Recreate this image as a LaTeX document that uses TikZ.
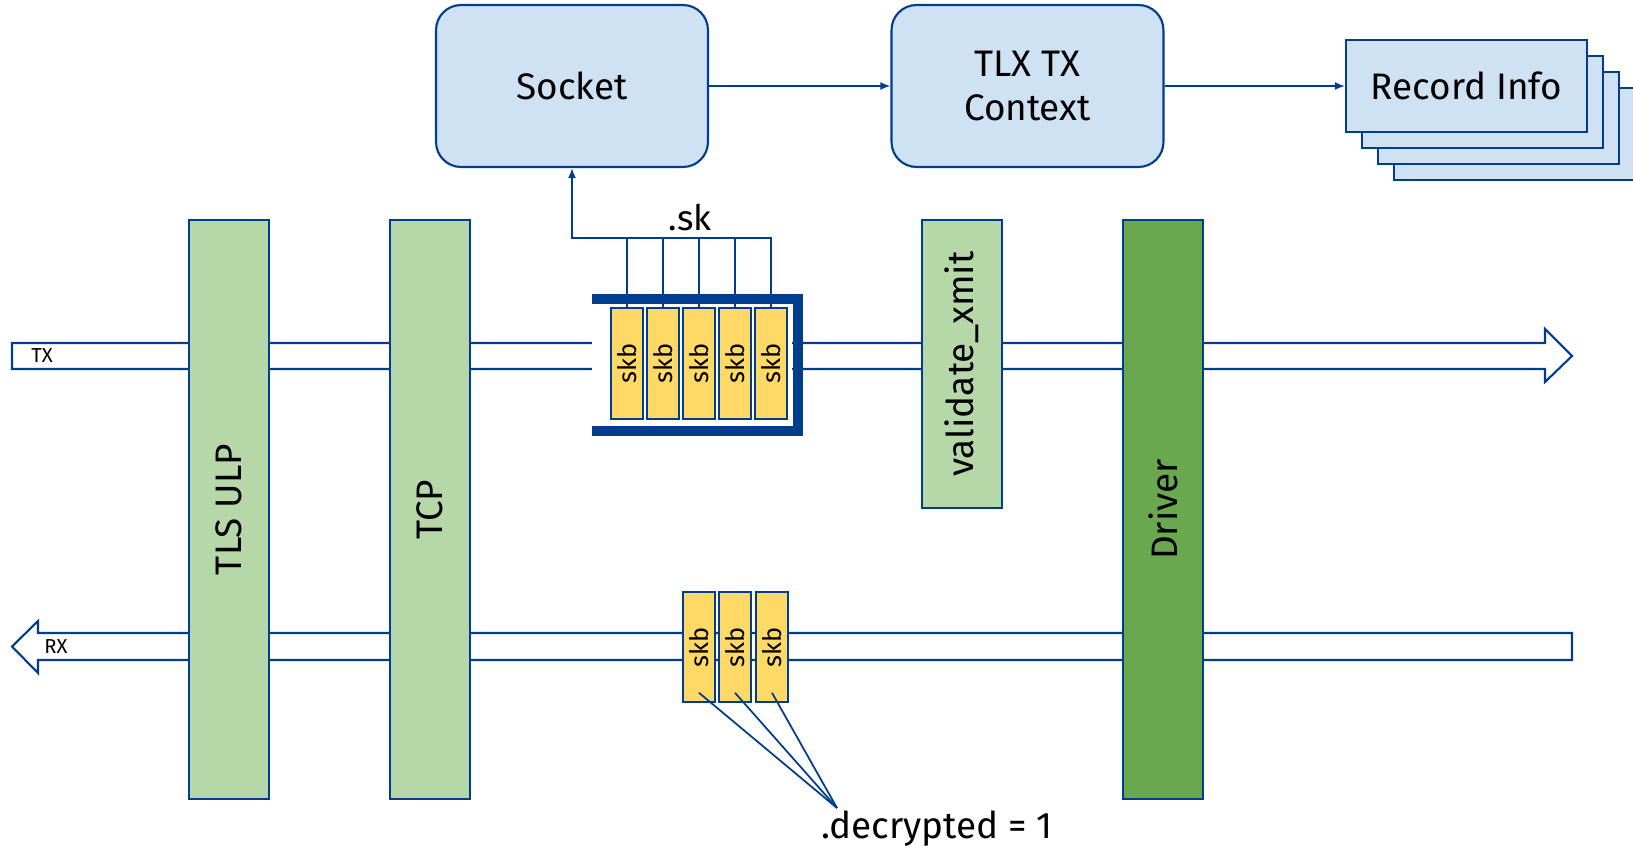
\documentclass[tikz,border=0pt]{standalone}
\usepackage{graphicx}
\usepackage{fontspec}
\setmainfont{Fira Sans}
\usetikzlibrary{arrows.meta}

\definecolor{lineblue}{RGB}{0,61,140}
\definecolor{boxblue}{RGB}{207,226,243}
\definecolor{lightgreen}{RGB}{182,215,168}
\definecolor{darkgreen}{RGB}{106,168,79}
\definecolor{skbyellow}{RGB}{255,217,102}

\tikzset{
  bigtext/.style={font=\fontsize{21}{25}\selectfont},
  ctxbox/.style={draw=lineblue, fill=boxblue, line width=1.2pt, rounded corners=0.5cm,
    minimum width=5.44cm, minimum height=3.24cm, align=center, bigtext},
  recbox/.style={draw=lineblue, fill=boxblue, line width=1.2pt,
    minimum width=4.82cm, minimum height=1.84cm, bigtext},
  layer/.style={draw=lineblue, line width=1.2pt, minimum width=1.6cm,
    minimum height=11.58cm, bigtext},
  skbbox/.style={draw=lineblue, fill=skbyellow, line width=0.9pt, inner sep=0pt,
    minimum width=0.64cm, minimum height=2.22cm, font=\fontsize{14.5}{17}\selectfont},
  pipe/.style={draw=lineblue, fill=white, line width=1.2pt},
  link/.style={draw=lineblue, line width=1pt},
  tip/.style={-{Latex[length=2mm,width=1.6mm]}}
}

\begin{document}
\begin{tikzpicture}[x=0.02cm, y=-0.02cm]
\useasboundingbox (0,0) rectangle (1633,848);

% top row
\node[ctxbox] (sock) at (572,86) {Socket};
\node[ctxbox] (tlx) at (1027.5,86) {TLX TX\\Context};
\foreach \k in {3,2,1}
    \node[recbox] at ({1466.5+16*\k},{86+16*\k}) {};
\node[recbox] (rec) at (1466.5,86) {Record Info};
\draw[link, tip] (sock) -- (tlx);
\draw[link, tip] (tlx) -- (rec);

% TX and RX paths
\draw[pipe] (12,343) -- (1545,343) -- (1545,329) -- (1572,356) -- (1545,382)
    -- (1545,369) -- (12,369) -- cycle;
\node[font=\fontsize{11.5}{13}\selectfont] (txl) at (42,356) {TX};
\draw[pipe] (12,646.5) -- (38,621) -- (38,633) -- (1572,633) -- (1572,660)
    -- (38,660) -- (38,673) -- cycle;
\node[font=\fontsize{11.5}{13}\selectfont] (rxl) at (56,646.5) {RX};

% layers
\node[layer, fill=lightgreen] (tls) at (229,509.5) {\rotatebox{90}{TLS ULP}};
\node[layer, fill=lightgreen] (tcp) at (430,509.5) {\rotatebox{90}{TCP}};
\node[layer, fill=lightgreen, minimum height=5.76cm] (vx) at (962,364) {\rotatebox{90}{validate\_xmit}};
\node[layer, fill=darkgreen] (drv) at (1163,509.5) {\rotatebox{90}{Driver}};

% socket write queue
\fill[white] (592,303) rectangle (792,425);
\draw[lineblue, line width=5.7pt] (592,299) -- (797.5,299) -- (797.5,431) -- (592,431);
\foreach \i/\x in {1/627,2/663,3/699,4/735,5/771}
    \node[skbbox] (tskb\i) at (\x,363.5) {\rotatebox{90}{skb}};
\coordinate (comb) at (572,238);
\draw[link, tip] (tskb5.north) |- (comb) -- (sock.south);
\foreach \i in {1,...,4}
    \draw[link] (tskb\i.north) -- (tskb\i.north |- comb);
\node[anchor=base, font=\fontsize{20}{24}\selectfont] (sk) at (690,230) {.sk};

% received skbs
\foreach \i/\x in {1/699,2/735,3/772}
    \node[skbbox, minimum height=2.2cm] (rskb\i) at (\x,647) {\rotatebox{90}{skb}};
\node[anchor=base, bigtext] (dec) at (937,838) {.decrypted = 1};
\coordinate (decpt) at (837,808);
\foreach \i in {1,2,3}
    \draw[link] ([yshift=0.2cm]rskb\i.south) -- (decpt);
\end{tikzpicture}
\end{document}
